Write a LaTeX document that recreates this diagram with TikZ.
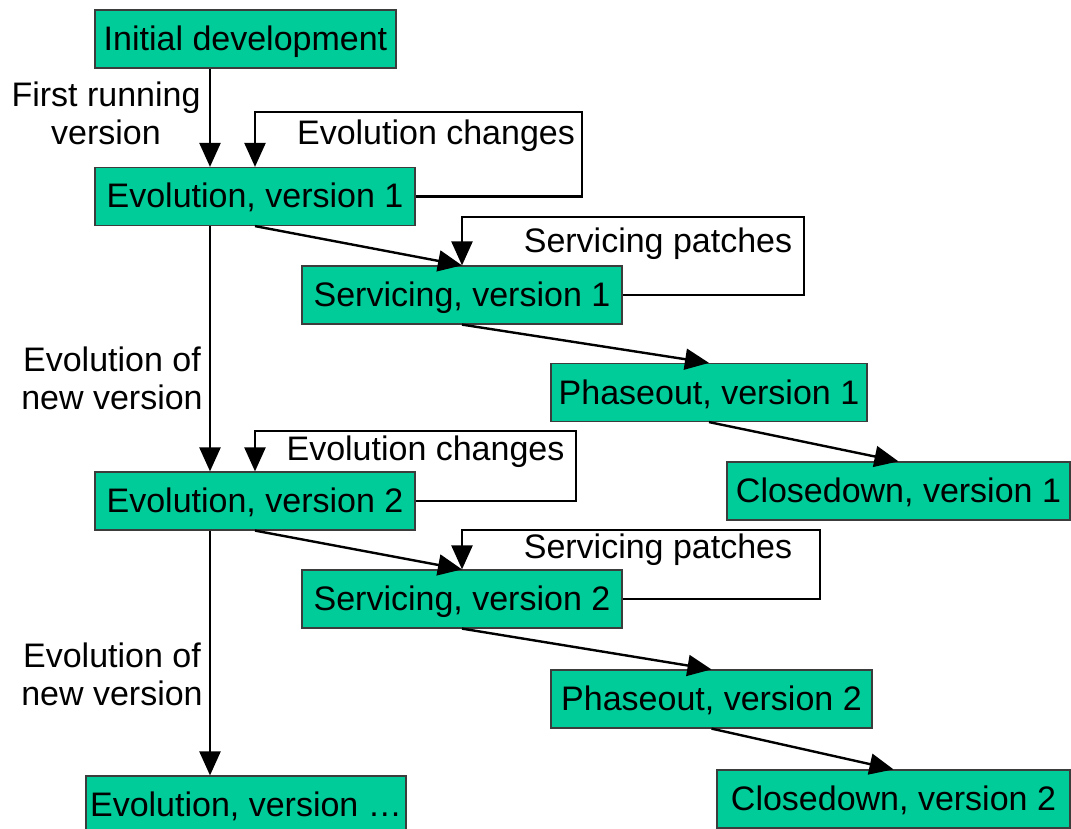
\documentclass[tikz,border=0pt]{standalone}
\usepackage{fontspec}
\setmainfont{Liberation Sans}
\usetikzlibrary{arrows.meta}
\definecolor{boxgreen}{RGB}{0,204,153}
\definecolor{boxedge}{RGB}{60,60,60}
\begin{document}
\begin{tikzpicture}[x=1pt,y=-1pt,
  font=\fontsize{34}{38}\selectfont,
  stage/.style={draw=boxedge,fill=boxgreen,line width=1.2pt,inner sep=0pt,
                minimum height=58pt,text height=23pt,text depth=0pt,anchor=center},
  flow/.style={line width=2.4pt,-{Triangle[length=24pt,width=21pt]}},
  lbl/.style={inner sep=0pt,align=center}]
\useasboundingbox (0,0) rectangle (1071,829);

% stages
\node[stage,minimum width=301pt] (init)   at (245.5,39)  {Initial development};
\node[stage,minimum width=320pt] (evo1)   at (255,196.5) {Evolution, version 1};
\node[stage,minimum width=320pt] (serv1)  at (462,295)   {Servicing, version 1};
\node[stage,minimum width=316pt] (phase1) at (709,392.5) {Phaseout, version 1};
\node[stage,minimum width=343pt] (close1) at (898.5,491) {Closedown, version 1};
\node[stage,minimum width=320pt] (evo2)   at (255,501)   {Evolution, version 2};
\node[stage,minimum width=320pt] (serv2)  at (462,599)   {Servicing, version 2};
\node[stage,minimum width=321pt] (phase2) at (711.5,699) {Phaseout, version 2};
\node[stage,minimum width=353pt] (close2) at (893.5,799) {Closedown, version 2};
\node[stage,minimum width=320pt] (evo3)   at (246,805)   {Evolution, version \dots};

% main evolution line
\coordinate (trunk) at (210,0);
\draw[flow] (init.south -| trunk) -- (evo1.north -| trunk);
\draw[flow] (evo1.south -| trunk) -- (evo2.north -| trunk);
\draw[flow] (evo2.south -| trunk) -- (evo3.north -| trunk);

% hand-offs between stages
\draw[flow] (evo1.south)   -- (serv1.north);
\draw[flow] (serv1.south)  -- (phase1.north);
\draw[flow] (phase1.south) -- (close1.north);
\draw[flow] (evo2.south)   -- (serv2.north);
\draw[flow] (serv2.south)  -- (phase2.north);
\draw[flow] (phase2.south) -- (close2.north);

% feedback loops
\draw[flow] (evo1.east)  -| (582,112) -| (evo1.north);
\draw[flow] (serv1.east) -| (804,217) -| (serv1.north);
\draw[flow] (evo2.east)  -| (576,431) -| (evo2.north);
\draw[flow] (serv2.east) -| (820,530) -| (serv2.north);

% labels (a two-line node sits on the baseline of its last line)
\node[lbl,anchor=base] (l1) at (106,145) {First running\\version};
\node[lbl,anchor=base] (l2) at (112,409) {Evolution of\\new version};
\node[lbl,anchor=base] (l3) at (112,705) {Evolution of\\new version};
\node[lbl,anchor=base] (c1) at (436,145) {Evolution changes};
\node[lbl,anchor=base] (c2) at (425.5,460) {Evolution changes};
\node[lbl,anchor=base] (p1) at (658,253) {Servicing patches};
\node[lbl,anchor=base] (p2) at (658,558) {Servicing patches};
\end{tikzpicture}
\end{document}
